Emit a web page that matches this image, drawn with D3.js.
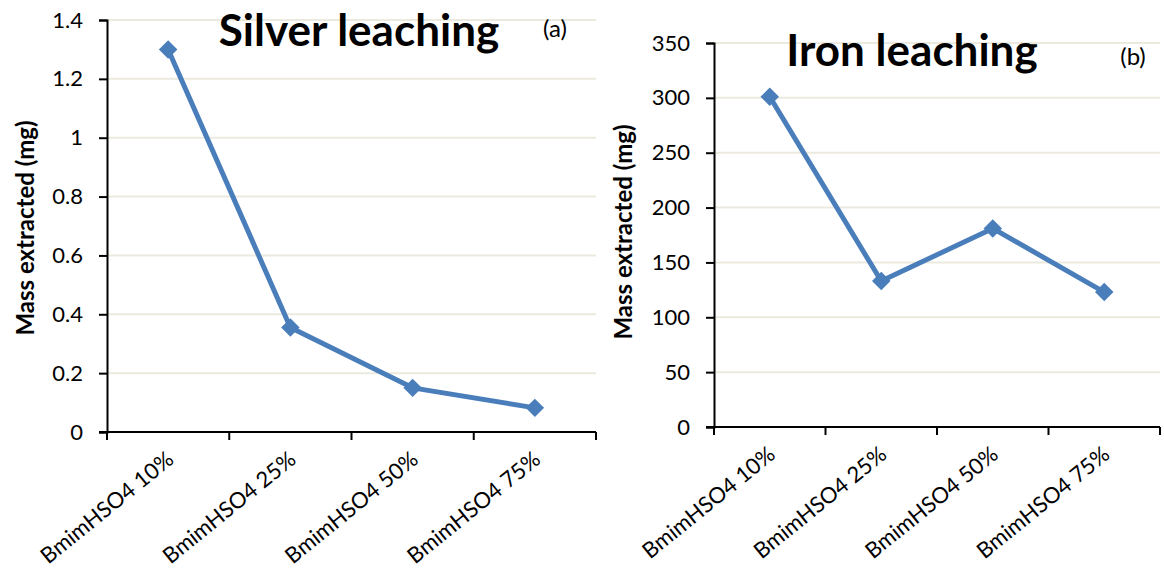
<!DOCTYPE html>
<html>
<head>
<meta charset="utf-8">
<script src="https://cdn.jsdelivr.net/npm/d3@7"></script>
<style>
  html, body { margin: 0; padding: 0; background: #fff; }
  svg { display: block; font-family: Lato, "Open Sans", sans-serif; }
</style>
</head>
<body>
<svg id="chart" width="1164" height="571"></svg>
<script>
// Categories shared by both panels
const categories = ["BmimHSO4 10%", "BmimHSO4 25%", "BmimHSO4 50%", "BmimHSO4 75%"];

// Silver leaching, mass extracted (mg)
const silverValues = [1.3, 0.355, 0.15, 0.082];
const silverTicks = [0, 0.2, 0.4, 0.6, 0.8, 1, 1.2, 1.4];

// Iron leaching, mass extracted (mg)
const ironValues = [301, 133, 181, 123];
const ironTicks = [0, 50, 100, 150, 200, 250, 300, 350];

const svg = d3.select("#chart");
const lineColor = "#4a7ebb";
const gridColor = "#ece9df";
const fontFamily = "Lato, 'Open Sans', sans-serif";

function panel(cfg) {
  const g = svg.append("g");
  const x = d3.scaleBand().domain(categories).range([cfg.x0, cfg.x1]);
  const y = d3.scaleLinear().domain([0, cfg.max]).range([cfg.y0, cfg.y1]);

  // horizontal gridlines
  g.selectAll("line.grid").data(cfg.ticks.filter(d => d > 0)).join("line")
    .attr("x1", cfg.x0).attr("x2", cfg.x1)
    .attr("y1", d => y(d)).attr("y2", d => y(d))
    .attr("stroke", gridColor).attr("stroke-width", 2);

  // y axis
  const yAxis = d3.axisLeft(y).tickValues(cfg.ticks).tickSize(8).tickPadding(16)
    .tickFormat(cfg.fmt);
  const ya = g.append("g").attr("transform", `translate(${cfg.x0},0)`).call(yAxis);
  ya.attr("font-family", fontFamily).attr("font-size", 22);
  ya.select(".domain").attr("stroke", "#000").attr("stroke-width", 2);
  ya.selectAll(".tick line").attr("stroke", "#000").attr("stroke-width", 2);
  ya.selectAll(".tick text").attr("fill", "#000");

  // x axis: ticks at category boundaries
  g.append("line").attr("x1", cfg.x0 - 8).attr("x2", cfg.x1)
    .attr("y1", cfg.y0).attr("y2", cfg.y0)
    .attr("stroke", "#000").attr("stroke-width", 2);
  const bounds = categories.map(c => x(c)).concat([cfg.x1]);
  g.selectAll("line.xt").data(bounds).join("line")
    .attr("x1", d => d).attr("x2", d => d)
    .attr("y1", cfg.y0).attr("y2", cfg.y0 + 8)
    .attr("stroke", "#000").attr("stroke-width", 2);

  // rotated category labels
  g.selectAll("text.cat").data(categories).join("text")
    .attr("transform", d => `translate(${x(d) + x.bandwidth() / 2 + 7},${cfg.y0 + 30}) rotate(-39)`)
    .attr("text-anchor", "end")
    .attr("font-size", 22)
    .attr("fill", "#000")
    .text(d => d);

  // series line
  const cx = d => x(d) + x.bandwidth() / 2;
  const line = d3.line().x((d, i) => cx(categories[i])).y(d => y(d));
  g.append("path").datum(cfg.values)
    .attr("d", line).attr("fill", "none")
    .attr("stroke", lineColor).attr("stroke-width", 5)
    .attr("stroke-linejoin", "round");

  // diamond markers
  g.selectAll("path.pt").data(cfg.values).join("path")
    .attr("transform", (d, i) => `translate(${cx(categories[i])},${y(d)}) rotate(45)`)
    .attr("d", d3.symbol().type(d3.symbolSquare).size(170))
    .attr("fill", lineColor);

  // axis title
  g.append("text")
    .attr("transform", `translate(${cfg.titleX},${cfg.titleY}) rotate(-90)`)
    .attr("text-anchor", "middle")
    .attr("font-size", 24).attr("font-weight", "bold").attr("fill", "#000")
    .text("Mass extracted (mg)");

  // chart title
  g.append("text")
    .attr("x", cfg.headX).attr("y", cfg.headY)
    .attr("text-anchor", "middle")
    .attr("font-size", 44).attr("font-weight", "bold").attr("fill", "#000")
    .text(cfg.head);

  // panel tag
  g.append("text")
    .attr("x", cfg.tagX).attr("y", cfg.tagY)
    .attr("text-anchor", "middle")
    .attr("font-size", 24).attr("fill", "#000")
    .text(cfg.tag);
}

panel({
  x0: 107, x1: 596, y0: 432, y1: 20, max: 1.4,
  values: silverValues, ticks: silverTicks, fmt: d3.format("~g"),
  titleX: 34, titleY: 228,
  head: "Silver leaching", headX: 359, headY: 46,
  tag: "(a)", tagX: 555, tagY: 37
});

panel({
  x0: 714, x1: 1160, y0: 427, y1: 43, max: 350,
  values: ironValues, ticks: ironTicks, fmt: d3.format("d"),
  titleX: 632, titleY: 232,
  head: "Iron leaching", headX: 912, headY: 66,
  tag: "(b)", tagX: 1133, tagY: 65
});
</script>
</body>
</html>
